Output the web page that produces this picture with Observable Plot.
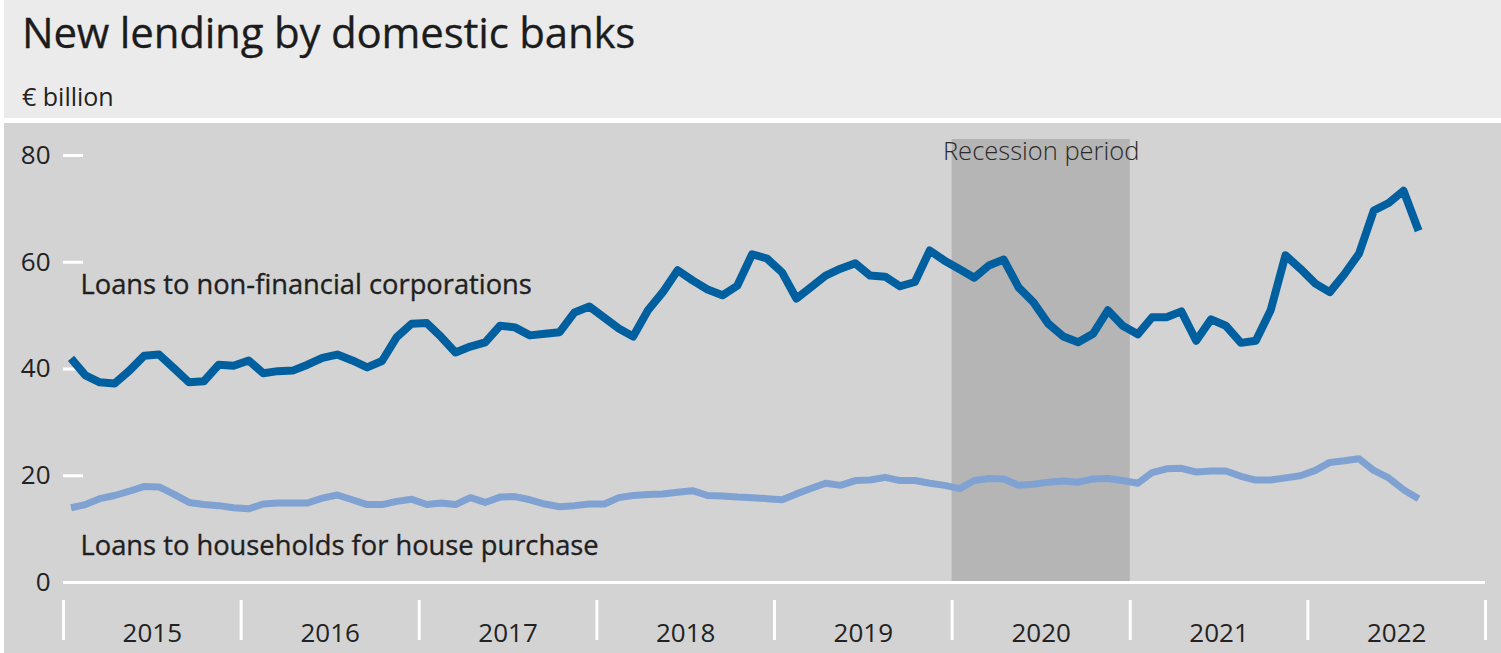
<!DOCTYPE html>
<html>
<head>
<meta charset="utf-8">
<script src="https://cdn.jsdelivr.net/npm/d3@7"></script>
<script src="https://cdn.jsdelivr.net/npm/@observablehq/plot@0.6"></script>
<style>
  html, body { margin: 0; padding: 0; background: #ffffff; }
  body { font-family: "Open Sans", "Noto Sans", sans-serif; width: 1501px; height: 653px; overflow: hidden; }
  #head { margin-left: 4px; height: 118px; background: #ebebeb; position: relative; }
  #title { position: absolute; left: 18px; top: 3px; font-size: 42px; color: #1c1c1c; white-space: nowrap; letter-spacing: -0.2px; -webkit-text-stroke: 0.3px #1c1c1c; }
  #sub { position: absolute; left: 18px; top: 79px; font-size: 25px; color: #222; white-space: nowrap; }
  #chart { margin-left: 4px; margin-top: 5px; line-height: 0; }
</style>
</head>
<body>
<div id="head">
  <div id="title">New lending by domestic banks</div>
  <div id="sub">€ billion</div>
</div>
<div id="chart"></div>
<script>
// Monthly observations, January 2015 to August 2022 (€ billion)
const firstMonth = "2015-01";
const lastMonth = "2022-08";

const corporations = [
  42.0, 38.8, 37.5, 37.3, 39.7, 42.5, 42.7, 40.1, 37.5, 37.7, 40.8, 40.6,
  41.6, 39.2, 39.6, 39.7, 40.8, 42.1, 42.7, 41.6, 40.3, 41.5, 46.0, 48.5,
  48.6, 46.0, 43.1, 44.2, 45.0, 48.1, 47.8, 46.3, 46.6, 46.9, 50.6, 51.7,
  49.6, 47.6, 46.1, 51.0, 54.4, 58.5, 56.6, 54.9, 53.8, 55.6, 61.5, 60.7,
  58.1, 53.2, 55.3, 57.5, 58.8, 59.8, 57.5, 57.3, 55.5, 56.3, 62.2, 60.3,
  58.7, 57.1, 59.4, 60.5, 55.3, 52.5, 48.5, 46.1, 45.0, 46.6, 51.0, 48.1,
  46.5, 49.7, 49.7, 50.8, 45.3, 49.3, 48.1, 44.9, 45.3, 51.0, 61.3, 58.8,
  56.0, 54.4, 57.7, 61.6, 69.7, 71.1, 73.4, 65.9
];

const households = [
  14.0, 14.6, 15.7, 16.3, 17.1, 18.0, 17.9, 16.5, 15.0, 14.6, 14.4, 14.0,
  13.8, 14.7, 14.9, 14.9, 14.9, 15.8, 16.4, 15.5, 14.6, 14.6, 15.2, 15.6,
  14.6, 14.9, 14.6, 15.9, 15.0, 16.0, 16.1, 15.5, 14.7, 14.2, 14.4, 14.7,
  14.7, 15.9, 16.3, 16.5, 16.6, 16.9, 17.2, 16.3, 16.2, 16.0, 15.9, 15.7,
  15.5, 16.6, 17.6, 18.6, 18.2, 19.1, 19.2, 19.7, 19.1, 19.1, 18.6, 18.2,
  17.6, 19.1, 19.5, 19.4, 18.2, 18.4, 18.8, 19.0, 18.8, 19.4, 19.5, 19.1,
  18.6, 20.6, 21.3, 21.4, 20.7, 20.9, 20.9, 19.9, 19.2, 19.2, 19.6, 20.0,
  21.0, 22.5, 22.8, 23.2, 21.0, 19.6, 17.4, 15.7
];

const yearLabels = ["2015", "2016", "2017", "2018", "2019", "2020", "2021", "2022"];
const yearBounds = ["2015", "2016", "2017", "2018", "2019", "2020", "2021", "2022", "2023"];
const yTicks = [0, 20, 40, 60, 80];

const recessionStart = "2020-01-01";
const recessionEnd = "2021-01-01";
const recessionLabel = "Recession period";

const seriesNames = ["Loans to non-financial corporations", "Loans to households for house purchase"];
const seriesLabelY = [55.6, 6.7];
const labelDate = "2015-02-05";
const recessionLabelY = 80.7;

// ---- build tables
const parseMonth = d3.utcParse("%Y-%m");
const start = parseMonth(firstMonth);
const months = d3.utcMonth.range(start, d3.utcMonth.offset(parseMonth(lastMonth), 1));
const midMonth = m => new Date((+m + +d3.utcMonth.offset(m, 1)) / 2);
const corpData = months.map((m, i) => ({date: midMonth(m), value: corporations[i]}));
const hhData = months.map((m, i) => ({date: midMonth(m), value: households[i]}));
const boundDates = yearBounds.map(y => d3.utcParse("%Y")(y));
const midYears = yearLabels.map(y => {
  const a = d3.utcParse("%Y")(y);
  return new Date((+a + +d3.utcYear.offset(a, 1)) / 2);
});

const W = 1497, H = 530;
const mL = 59, mR = 16, mT = 32, mB = 71;
const plotW = W - mL - mR;

const chart = Plot.plot({
  width: W,
  height: H,
  marginLeft: mL,
  marginRight: mR,
  marginTop: mT,
  marginBottom: mB,
  style: {background: "#d3d3d3", fontFamily: "'Open Sans', 'Noto Sans', sans-serif", fontSize: "24px", color: "#222"},
  x: {type: "utc", domain: [boundDates[0], boundDates[boundDates.length - 1]]},
  y: {domain: [0, 80]},
  marks: [
    Plot.rect([{x1: new Date(recessionStart), x2: new Date(recessionEnd)}],
      {x1: "x1", x2: "x2", fill: "#b5b5b5", insetTop: -16}),
    Plot.ruleY([0], {stroke: "#ffffff", strokeWidth: 3}),
    Plot.ruleY(yTicks.filter(d => d > 0), {stroke: "#ffffff", strokeWidth: 3, insetRight: plotW - 20}),
    Plot.line(hhData, {x: "date", y: "value", stroke: "#7fa2d2", strokeWidth: 7, strokeLinejoin: "round", strokeLinecap: "butt"}),
    Plot.line(corpData, {x: "date", y: "value", stroke: "#005f9f", strokeWidth: 8, strokeLinejoin: "round", strokeLinecap: "butt"}),
    Plot.text([seriesNames[0]], {x: () => new Date(labelDate), y: () => seriesLabelY[0], text: d => d, textAnchor: "start", fill: "#1f1f1f", stroke: "#1f1f1f", strokeWidth: 0.35, fontSize: 27.3}),
    Plot.text([seriesNames[1]], {x: () => new Date(labelDate), y: () => seriesLabelY[1], text: d => d, textAnchor: "start", fill: "#1f1f1f", stroke: "#1f1f1f", strokeWidth: 0.35, fontSize: 27.3}),
    Plot.text([recessionLabel], {x: () => new Date((+new Date(recessionStart) + +new Date(recessionEnd)) / 2), y: () => recessionLabelY, text: d => d, textAnchor: "middle", fill: "#2a2a2a", fontSize: 25.5, fontWeight: 300}),
    Plot.axisY(yTicks, {tickSize: 0, tickPadding: 13, fontSize: 26, fill: "#222", label: null}),
    Plot.axisX(boundDates, {tickSize: 40, dy: 18, stroke: "#ffffff", strokeWidth: 3, tickFormat: () => "", label: null}),
    Plot.axisX(midYears, {tickSize: 0, tickPadding: 41, tickFormat: d3.utcFormat("%Y"), fontSize: 26, fill: "#222", label: null})
  ]
});
document.getElementById("chart").appendChild(chart);
</script>
</body>
</html>
